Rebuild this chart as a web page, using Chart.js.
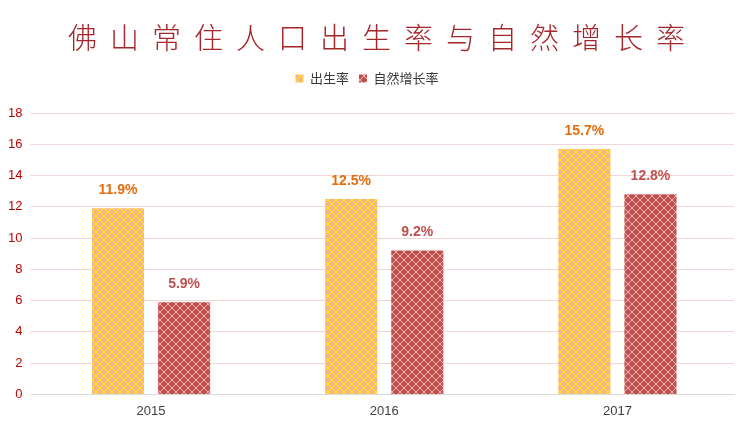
<!DOCTYPE html>
<html><head><meta charset="utf-8">
<script src="https://cdn.jsdelivr.net/npm/chart.js@4/dist/chart.umd.min.js"></script>
<style>html,body{margin:0;padding:0;background:#fff;}#wrap{width:750px;height:434px;position:relative;}</style>
</head><body><div id="wrap"><canvas id="c" width="750" height="434"></canvas></div>
<script>
const titleText = '佛山常住人口出生率与自然增长率';
const categories = ['2015', '2016', '2017'];
const seriesNames = ['出生率', '自然增长率'];
const birthRate = [11.9, 12.5, 15.7];
const naturalGrowth = [5.9, 9.2, 12.8];

function makePattern(base, line) {
  const s = 8;
  const cv = document.createElement('canvas');
  cv.width = s; cv.height = s;
  const g = cv.getContext('2d');
  g.fillStyle = base; g.fillRect(0, 0, s, s);
  g.fillStyle = line;
  for (let i = 0; i < s; i++) {
    g.fillRect(i, i, 1, 1);
    g.fillRect(s - 1 - i, i, 1, 1);
  }
  return g.createPattern(cv, 'repeat');
}
const ctx0 = document.getElementById('c').getContext('2d');
const orangePat = makePattern('#F7B486', '#FFF000');
const redPat = makePattern('#C0504D', '#EFB3B1');

const titlePlugin = {
  id: 'spacedTitle',
  afterDraw(chart) {
    const c = chart.ctx;
    c.save();
    c.font = '300 29px "Noto Sans CJK SC"';
    c.fillStyle = '#A3272B';
    c.letterSpacing = '13px';
    c.textAlign = 'center';
    c.textBaseline = 'middle';
    c.fillText(titleText, 383, 38);
    c.restore();
  }
};
const legendMargin = {
  id: 'legendMargin',
  beforeInit(chart) {
    const orig = chart.legend.fit;
    chart.legend.fit = function () { orig.bind(chart.legend)(); this.height += 18; };
  }
};
const labelPlugin = {
  id: 'valueLabels',
  afterDatasetsDraw(chart) {
    const c = chart.ctx;
    c.save();
    c.font = 'bold 14px "Liberation Sans", Arial, sans-serif';
    c.textAlign = 'center';
    c.textBaseline = 'middle';
    const colors = ['#E46C0A', '#C0504D'];
    chart.data.datasets.forEach((ds, i) => {
      chart.getDatasetMeta(i).data.forEach((bar, j) => {
        c.fillStyle = colors[i];
        c.fillText(ds.data[j].toFixed(1) + '%', bar.x, bar.y - 18);
      });
    });
    c.restore();
  }
};

new Chart(ctx0, {
  type: 'bar',
  data: {
    labels: categories,
    datasets: [
      { label: seriesNames[0], data: birthRate, backgroundColor: orangePat, borderWidth: 0 },
      { label: seriesNames[1], data: naturalGrowth, backgroundColor: redPat, borderWidth: 0 }
    ]
  },
  options: {
    responsive: false,
    animation: false,
    devicePixelRatio: 1,
    datasets: { bar: { categoryPercentage: 0.567, barPercentage: 0.788 } },
    layout: { padding: { top: 62, left: 0, right: 16, bottom: 6 } },
    plugins: {
      legend: {
        display: true,
        position: 'top',
        align: 'center',
        labels: {
          boxWidth: 8, boxHeight: 8, padding: 10,
          color: '#3A3A3A',
          font: { size: 13, family: '"Noto Sans CJK SC", sans-serif' }
        }
      },
      title: { display: false },
      tooltip: { enabled: false }
    },
    scales: {
      x: {
        grid: { display: false, drawTicks: false },
        border: { display: true, color: '#D9D9D9' },
        ticks: { color: '#404040', font: { size: 13, family: '"Liberation Sans", Arial, sans-serif' }, padding: 9 }
      },
      y: {
        min: 0, max: 18,
        ticks: { stepSize: 2, color: '#C00000', font: { size: 13, family: '"Liberation Sans", Arial, sans-serif' }, padding: 8 },
        grid: { color: '#F2D5D5', drawTicks: true, tickLength: 4 },
        border: { display: false }
      }
    }
  },
  plugins: [titlePlugin, legendMargin, labelPlugin]
});
</script></body></html>
